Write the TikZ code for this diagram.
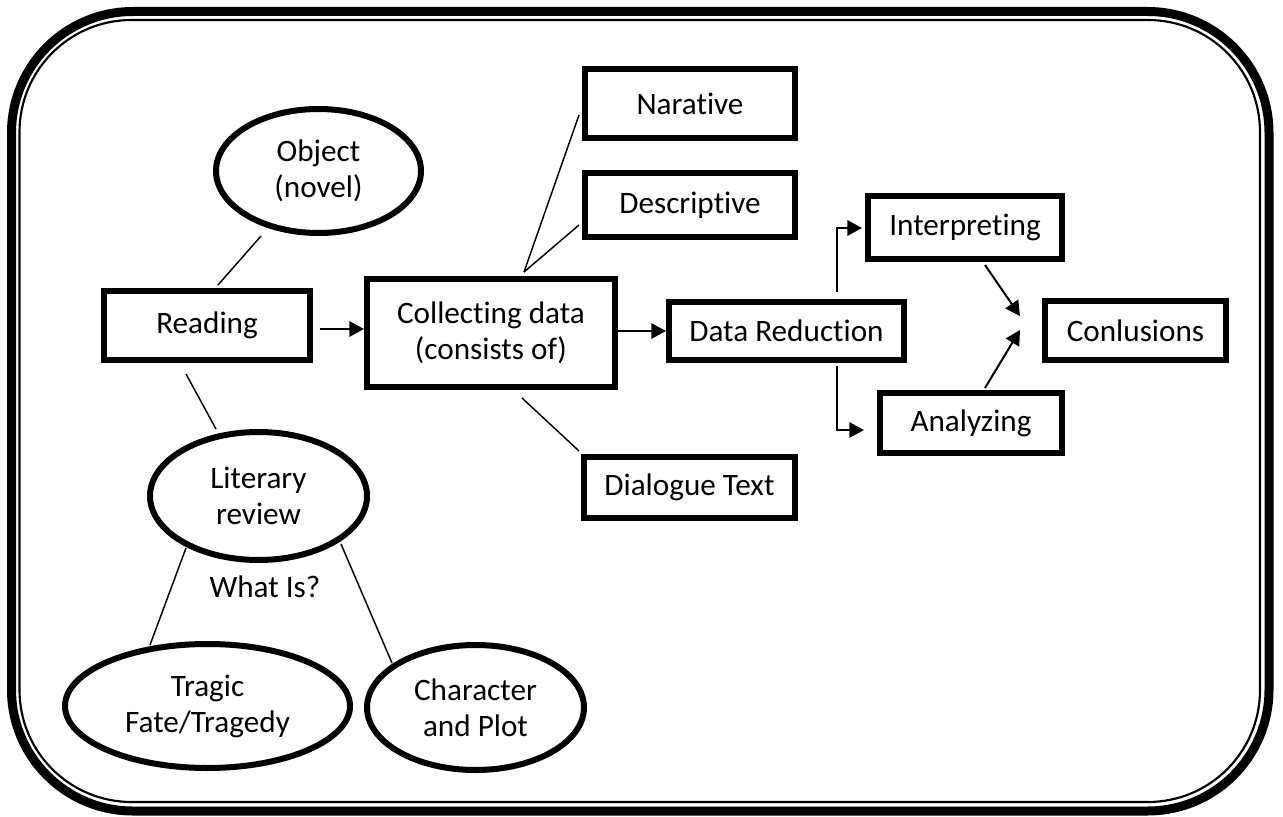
\documentclass[tikz,border=0pt]{standalone}
\usepackage{fontspec}
\setmainfont{Carlito}[Ligatures=NoCommon]
\usetikzlibrary{shapes.geometric,arrows.meta}
\newcommand{\txtfont}{\fontsize{23.4}{27}\selectfont}
\begin{document}
\begin{tikzpicture}[x=0.75pt,y=-0.75pt,
  box/.style={draw,line width=4.5pt,inner sep=0pt,font=\txtfont,align=center},
  oval/.style={box,ellipse},
  thinline/.style={line width=1.1pt},
  arr/.style={line width=1.5pt,-{Triangle[length=11pt,width=11.5pt]}}]
\useasboundingbox (0,0) rectangle (1283,817);
% frame
\draw[line width=6.75pt,rounded corners=91pt] (11.5,11.5) rectangle (1269,811);
\draw[line width=1.6pt,rounded corners=84pt] (19.5,20) rectangle (1260,802);
% boxes
\node[box,minimum width=154.5pt,minimum height=51.75pt] (read) at (207,325.5) {Reading};
\node[box,minimum width=186pt,minimum height=81pt] (coll) at (491,333) {Collecting data\\(consists of)};
\node[box,minimum width=157.5pt,minimum height=51.75pt] (narr) at (690,103.5) {Narative};
\node[box,minimum width=157.5pt,minimum height=48pt] (desc) at (690,205) {Descriptive};
\node[box,minimum width=158.25pt,minimum height=45.75pt] (dial) at (689.5,487.5) {Dialogue Text};
\node[box,minimum width=176.25pt,minimum height=43.5pt] (dred) at (786.5,331) {Data Reduction};
\node[box,minimum width=145.5pt,minimum height=47.25pt] (interp) at (965,227.5) {Interpreting};
\node[box,minimum width=136.5pt,minimum height=45pt] (anal) at (971,423) {Analyzing};
\node[box,minimum width=135.75pt,minimum height=44.25pt] (concl) at (1135.5,330.5) {Conlusions};
% ellipses
\node[oval,minimum width=153.75pt,minimum height=93pt] (obj) at (318.5,171) {Object\\(novel)};
\node[oval,minimum width=162.75pt,minimum height=96pt] (lit) at (258.5,496) {Literary\\review};
\node[oval,minimum width=213.75pt,minimum height=93pt] (trag) at (207.5,706) {Tragic\\Fate/Tragedy};
\node[oval,minimum width=162.75pt,minimum height=93.75pt] (char) at (475.5,707.5) {Character\\and Plot};
\node[font=\txtfont,inner sep=0pt] (what) at (265,587) {What Is?};
% meeting points
\coordinate (m1) at (1020,316);
\coordinate (m2) at (1020,330);
% thin connectors
\draw[thinline] ([shift={(-57.5,0)}]obj.south) -- ([shift={(11,-3)}]read.north);
\draw[thinline] ([shift={(-21,11)}]read.south) -- ([shift={(-42.5,0)}]lit.north);
\draw[thinline] ([shift={(33,-4)}]coll.north) -- ([shift={(-3,11.5)}]narr.west);
\draw[thinline] ([shift={(33,-4)}]coll.north) -- ([shift={(-3,20)}]desc.west);
\draw[thinline] ([shift={(31,8)}]coll.south) -- ([shift={(-2,-3)}]dial.north west);
\draw[thinline] ([shift={(-72.5,52)}]lit.center) -- ([shift={(-57.5,-61)}]trag.center);
\draw[thinline] ([shift={(82.5,48)}]lit.center) -- ([shift={(-83.5,-44.5)}]char.center);
% arrows
\draw[arr] ([shift={(7,3.5)}]read.east) -- ([shift={(0,-4)}]coll.west);
\draw[arr] (coll.east |- dred.west) -- (dred.west);
\draw[arr] ([shift={(50.5,-7)}]dred.north) |- ([shift={(-3,0.5)}]interp.west);
\draw[arr] ([shift={(50.5,3)}]dred.south) |- ([shift={(-13,7)}]anal.west);
\draw[arr] ([shift={(20,3)}]interp.south) -- (m1);
\draw[arr] ([shift={(14,-2)}]anal.north) -- (m2);
\end{tikzpicture}
\end{document}
